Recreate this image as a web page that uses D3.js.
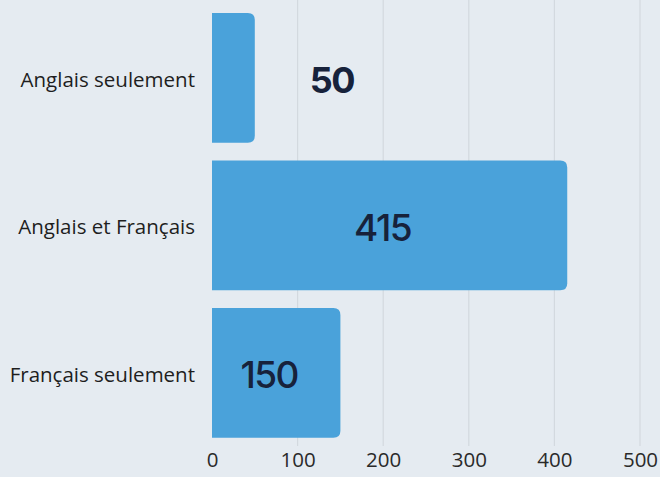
<!DOCTYPE html>
<html>
<head>
<meta charset="utf-8">
<script src="https://cdn.jsdelivr.net/npm/d3@7"></script>
<style>
  body { margin: 0; background: #e5ebf1; }
  svg { display: block; }
</style>
</head>
<body>
<div id="chart"></div>
<script>
var categories = ['Anglais seulement', 'Anglais et Français', 'Français seulement'];
var values = [50, 415, 150];
var xTicks = [0, 100, 200, 300, 400, 500];

var width = 660, height = 477;
var svg = d3.select('#chart').append('svg')
    .attr('width', width).attr('height', height);

svg.append('rect').attr('width', width).attr('height', height).attr('fill', '#e5ebf1');

var x = d3.scaleLinear().domain([0, 500]).range([212, 640]);
var y = d3.scaleBand().domain(categories)
    .range([4.2, 446.7]).paddingInner(0.12).paddingOuter(0.06);

// vertical grid
svg.append('g').selectAll('line')
    .data(xTicks.slice(1))
    .enter().append('line')
    .attr('x1', function(d) { return x(d); })
    .attr('x2', function(d) { return x(d); })
    .attr('y1', 0).attr('y2', 446)
    .attr('stroke', '#d3d9df').attr('stroke-width', 1.2);

// x axis labels
var xAxis = d3.axisBottom(x).tickValues(xTicks).tickSize(0).tickPadding(0);
var gx = svg.append('g').attr('transform', 'translate(0,452)').call(xAxis);
gx.select('.domain').remove();
gx.selectAll('text')
    .attr('dy', '0.71em')
    .style('font-family', '"Open Sans", sans-serif')
    .style('font-size', '20.5px')
    .attr('fill', '#2a2a2a');

// y axis labels
var yAxis = d3.axisLeft(y).tickSize(0).tickPadding(17);
var gy = svg.append('g').attr('transform', 'translate(212,0)').call(yAxis);
gy.select('.domain').remove();
gy.selectAll('text')
    .attr('dy', '0.42em')
    .style('font-family', '"Open Sans", sans-serif')
    .style('font-size', '20.5px')
    .attr('fill', '#1e1e1e');

// bars with rounded right end
var r = 7;
function barPath(d, i) {
    var x0 = x(0), x1 = x(d), y0 = y(categories[i]), h = y.bandwidth();
    var rr = Math.min(r, (x1 - x0) / 2);
    return 'M' + x0 + ',' + y0 +
        'H' + (x1 - rr) +
        'Q' + x1 + ',' + y0 + ' ' + x1 + ',' + (y0 + rr) +
        'V' + (y0 + h - rr) +
        'Q' + x1 + ',' + (y0 + h) + ' ' + (x1 - rr) + ',' + (y0 + h) +
        'H' + x0 + 'Z';
}

svg.selectAll('.bar')
    .data(values)
    .enter().append('path')
    .attr('class', 'bar')
    .attr('d', barPath)
    .attr('fill', '#4aa2da');

// value labels
svg.selectAll('.val')
    .data(values)
    .enter().append('text')
    .attr('class', 'val')
    .attr('x', function(d) {
        var w = x(d) - x(0);
        return w < 80 ? x(d) + 77 : (x(0) + x(d)) / 2 - 7;
    })
    .attr('y', function(d, i) { return y(categories[i]) + y.bandwidth() / 2; })
    .attr('dy', '0.42em')
    .attr('text-anchor', 'middle')
    .style('font-family', 'Inter, sans-serif')
    .style('font-size', function(d) { return x(d) - x(0) < 80 ? '36px' : '37px'; })
    .style('font-weight', function(d) { return x(d) - x(0) < 80 ? 700 : 500; })
    .style('letter-spacing', '-1.5px')
    .attr('fill', '#17223b')
    .text(function(d) { return d; });
</script>
</body>
</html>
